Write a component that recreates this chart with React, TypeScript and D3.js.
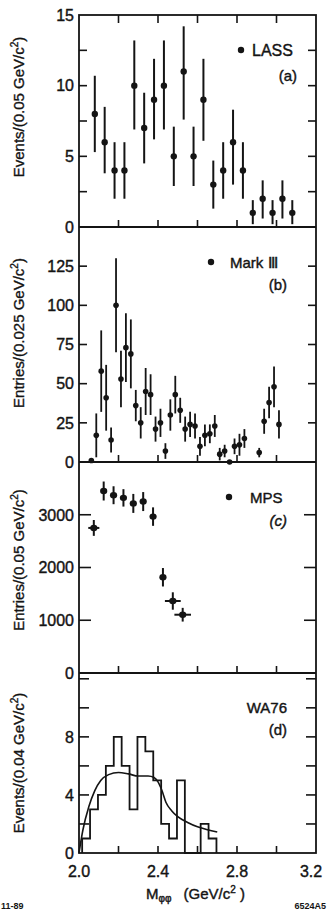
import React from 'react';
import * as d3 from 'd3';

const W = 328;
const H = 911;

// ---- data ----
const lassX = [2.08, 2.13, 2.18, 2.23, 2.28, 2.33, 2.38, 2.43, 2.48, 2.53, 2.58, 2.63, 2.68, 2.73, 2.78, 2.83, 2.88, 2.93, 2.98, 3.03, 3.08];
const lassY = [8, 6, 4, 4, 10, 7, 9, 10, 5, 11, 5, 9, 3, 4, 6, 4, 1, 2, 1, 2, 1];
const lassHi = [10.7, 8.5, 6.0, 6.0, 13.2, 9.5, 11.9, 13.2, 7.1, 14.2, 7.1, 11.9, 4.7, 6.0, 8.3, 6.0, 1.9, 3.3, 1.9, 3.3, 1.9];
const lassLo = [5.3, 3.8, 2.0, 2.0, 6.9, 4.5, 6.2, 6.9, 2.9, 7.6, 2.9, 6.1, 1.3, 2.0, 3.0, 2.0, 0.2, 0.6, 0.2, 0.6, 0.2];

const markX = [2.0625, 2.0875, 2.1125, 2.1375, 2.1625, 2.1875, 2.2125, 2.2375, 2.2625, 2.2875, 2.3125, 2.3375, 2.3625, 2.3875, 2.4125, 2.4375, 2.4625, 2.4875, 2.5125, 2.5375, 2.5625, 2.5875, 2.6125, 2.6375, 2.6625, 2.6875, 2.7125, 2.7375, 2.7625, 2.7875, 2.8125, 2.8375, 2.9125, 2.9375, 2.9625, 2.9875, 3.0125];
const markY = [1, 17, 58, 41, 14, 100, 53, 73, 69, 36, 25, 45, 43, 21, 25, 7, 30, 43, 33, 21, 24, 23, 10, 17, 18, 23, 5, 7, 0, 10, 11, 15, 6, 26, 38, 48, 24];
const markErr = [0, 14, 26, 21, 8, 30, 18, 22, 22, 10, 10, 15, 13, 8, 9, 5, 10, 12, 8, 8, 8, 8, 6, 7, 6, 7, 4, 4, 0, 5, 7, 6, 3, 8, 10, 13, 9];

const mpsX = [2.075, 2.125, 2.175, 2.225, 2.275, 2.325, 2.375, 2.425, 2.475, 2.525];
const mpsY = [2750, 3450, 3370, 3320, 3215, 3250, 2965, 1815, 1365, 1105];
const mpsYErr = [150, 180, 170, 165, 180, 180, 175, 175, 165, 130];
const mpsXErr = [0.028, 0.012, 0.012, 0.012, 0.012, 0.012, 0.012, 0.012, 0.04, 0.042];

const waEdges = [2.016, 2.056, 2.096, 2.136, 2.176, 2.216, 2.256, 2.296, 2.336, 2.376, 2.416, 2.456, 2.496, 2.536, 2.576, 2.616, 2.656, 2.696];
const waCounts = [1, 3, 4, 6, 8, 6, 3, 8, 7, 5, 2, 1, 5, 0, 0, 2, 1];
const fitX = [2.0, 2.02, 2.05, 2.08, 2.11, 2.15, 2.2, 2.25, 2.3, 2.35, 2.38, 2.4, 2.42, 2.44, 2.47, 2.5, 2.55, 2.6, 2.65, 2.7];
const fitY = [0, 1.6, 3.2, 4.3, 5.0, 5.4, 5.55, 5.45, 5.3, 5.3, 5.2, 4.9, 4.3, 3.5, 2.9, 2.5, 2.1, 1.8, 1.6, 1.45];

const xTickVals = [2.2, 2.4, 2.6, 2.8, 3.0];
const xLabelVals = [2.0, 2.4, 2.8, 3.2];
const xLabelText = ['2.0', '2.4', '2.8', '3.2'];

const aLabels = [0, 5, 10, 15];
const aTicks = [2.5, 5, 7.5, 10, 12.5];
const bLabels = [0, 25, 50, 75, 100, 125];
const bTicks = [25, 50, 75, 100, 125];
const cLabels = [0, 1000, 2000, 3000];
const cTicks = [1000, 2000, 3000];
const dLabels = [0, 4, 8];
const dTicks = [2, 4, 6, 8, 10, 12];

// ---- layout ----
const X0 = 79;
const X1 = 316;
const INK = '#141414';
const FONT = "'Liberation Sans', Arial, Helvetica, sans-serif";

const x = d3.scaleLinear().domain([2.0, 3.2]).range([X0, X1]);
const ya = d3.scaleLinear().domain([0, 15]).range([227, 15]);
const yb = d3.scaleLinear().domain([0, 150]).range([462, 227]);
const yc = d3.scaleLinear().domain([0, 4000]).range([673, 462]);
const yd = d3.scaleLinear().domain([0, 12.4]).range([853, 673]);

function YAxis({ y, labels, ticks, len }: { y: d3.ScaleLinear<number, number>; labels: number[]; ticks: number[]; len: number }) {
  return (
    <g>
      {ticks.map((t) => (
        <g key={'t' + t}>
          <line x1={X0} x2={X0 + len} y1={y(t)} y2={y(t)} stroke={INK} strokeWidth={1.6} />
          <line x1={X1} x2={X1 - len} y1={y(t)} y2={y(t)} stroke={INK} strokeWidth={1.6} />
        </g>
      ))}
      {labels.map((t) => (
        <text key={'l' + t} x={X0 - 5} y={y(t)} dy="0.36em" textAnchor="end" fontSize={16} fill={INK} stroke={INK} strokeWidth={0.4}>
          {t}
        </text>
      ))}
    </g>
  );
}

function XTicks({ yBottom, yTop }: { yBottom: number; yTop?: number }) {
  return (
    <g>
      {xTickVals.map((t) => (
        <line key={'b' + t} x1={x(t)} x2={x(t)} y1={yBottom} y2={yBottom - 7} stroke={INK} strokeWidth={1.6} />
      ))}
      {yTop !== undefined &&
        xTickVals.map((t) => (
          <line key={'u' + t} x1={x(t)} x2={x(t)} y1={yTop} y2={yTop + 8} stroke={INK} strokeWidth={1.6} />
        ))}
    </g>
  );
}

function YTitle({ cy, text }: { cy: number; text: string }) {
  return (
    <text transform={`translate(19,${cy}) rotate(-90)`} textAnchor="middle" dy="0.35em" fontSize={15} fill={INK} stroke={INK} strokeWidth={0.35}>
      {text}
      <tspan fontSize={10} dy={-6}>2</tspan>
      <tspan dy={6}>)</tspan>
    </text>
  );
}

export default function App() {
  const histPath = (() => {
    let p = `M${x(waEdges[0])},${yd(0)}`;
    waCounts.forEach((c, i) => {
      p += `V${yd(c)}H${x(waEdges[i + 1])}`;
    });
    p += `V${yd(0)}`;
    return p;
  })();
  const fitLine = d3
    .line<number>()
    .x((_, i) => x(fitX[i]))
    .y((v) => yd(v))
    .curve(d3.curveMonotoneX)(fitY) as string;

  return (
    <svg width={W} height={H} style={{ position: 'absolute', left: 0, top: 0, background: '#fff' }} fontFamily={FONT}>
      <rect x={0} y={0} width={W} height={H} fill="#fff" />
      {/* frames */}
      <rect x={X0} y={15} width={X1 - X0} height={853 - 15} fill="none" stroke={INK} strokeWidth={1.8} />
      <line x1={X0} x2={X1} y1={227} y2={227} stroke={INK} strokeWidth={1.8} />
      <line x1={X0} x2={X1} y1={462} y2={462} stroke={INK} strokeWidth={1.8} />
      <line x1={X0} x2={X1} y1={673} y2={673} stroke={INK} strokeWidth={1.8} />

      <XTicks yBottom={227} yTop={15} />
      <XTicks yBottom={462} />
      <XTicks yBottom={673} />
      <XTicks yBottom={853} />

      <YAxis y={ya} labels={aLabels} ticks={aTicks} len={8} />
      <YAxis y={yb} labels={bLabels} ticks={bTicks} len={8} />
      <YAxis y={yc} labels={cLabels} ticks={cTicks} len={12} />
      <YAxis y={yd} labels={dLabels} ticks={dTicks} len={10} />

      <YTitle cy={107} text="Events/(0.05 GeV/c" />
      <YTitle cy={333} text="Entries/(0.025 GeV/c" />
      <YTitle cy={560} text="Entries/(0.05 GeV/c" />
      <YTitle cy={763} text="Events/(0.04 GeV/c" />

      {/* panel a: LASS */}
      <g>
        {lassX.map((v, i) => (
          <g key={i}>
            <line x1={x(v)} x2={x(v)} y1={ya(lassLo[i])} y2={ya(lassHi[i])} stroke={INK} strokeWidth={2} />
            <circle cx={x(v)} cy={ya(lassY[i])} r={3.2} fill={INK} />
          </g>
        ))}
        <circle cx={241} cy={50} r={3.2} fill={INK} />
        <text x={252} y={55.5} fontSize={16} fill={INK} stroke={INK} strokeWidth={0.4}>LASS</text>
        <text x={297} y={81} fontSize={15} textAnchor="end" fill={INK} stroke={INK} strokeWidth={0.4}>(a)</text>
      </g>

      {/* panel b: Mark III */}
      <g>
        {markX.map((v, i) => (
          <g key={i}>
            {markErr[i] > 0 && (
              <line x1={x(v)} x2={x(v)} y1={yb(Math.max(0, markY[i] - markErr[i]))} y2={yb(markY[i] + markErr[i])} stroke={INK} strokeWidth={1.8} />
            )}
            <circle cx={x(v)} cy={yb(markY[i])} r={2.8} fill={INK} />
          </g>
        ))}
        <circle cx={211} cy={262} r={3.2} fill={INK} />
        <text x={230} y={267.5} fontSize={15} fill={INK} stroke={INK} strokeWidth={0.4}>Mark Ⅲ</text>
        <text x={287} y={290} fontSize={15} textAnchor="end" fill={INK} stroke={INK} strokeWidth={0.4}>(b)</text>
      </g>

      {/* panel c: MPS */}
      <g>
        {mpsX.map((v, i) => (
          <g key={i}>
            <line x1={x(v)} x2={x(v)} y1={yc(mpsY[i] - mpsYErr[i])} y2={yc(mpsY[i] + mpsYErr[i])} stroke={INK} strokeWidth={2} />
            <line x1={x(v - mpsXErr[i])} x2={x(v + mpsXErr[i])} y1={yc(mpsY[i])} y2={yc(mpsY[i])} stroke={INK} strokeWidth={2} />
            <ellipse cx={x(v)} cy={yc(mpsY[i])} rx={3.6} ry={3.2} fill={INK} />
          </g>
        ))}
        <circle cx={229} cy={497} r={3.2} fill={INK} />
        <text x={250} y={502.5} fontSize={15} fill={INK} stroke={INK} strokeWidth={0.4}>MPS</text>
        <text x={287} y={526} fontSize={15} textAnchor="end" fill={INK} stroke={INK} strokeWidth={0.4} fontStyle="italic">(c)</text>
      </g>

      {/* panel d: WA76 */}
      <g>
        <path d={histPath} fill="none" stroke={INK} strokeWidth={1.8} />
        <path d={fitLine} fill="none" stroke={INK} strokeWidth={1.6} />
        <text x={287} y={713} fontSize={15} textAnchor="end" fill={INK} stroke={INK} strokeWidth={0.4}>WA76</text>
        <text x={287} y={735} fontSize={15} textAnchor="end" fill={INK} stroke={INK} strokeWidth={0.4}>(d)</text>
      </g>

      {/* x labels */}
      {xLabelVals.map((v, i) => (
        <text key={v} x={Math.min(x(v), 311)} y={877} textAnchor="middle" fontSize={16} fill={INK} stroke={INK} strokeWidth={0.4}>
          {xLabelText[i]}
        </text>
      ))}
      <text x={146} y={899} fontSize={15} fill={INK} stroke={INK} strokeWidth={0.4}>
        M
        <tspan fontSize={10} dy={3}>φφ</tspan>
        <tspan dy={-3} dx={12}>(GeV/c</tspan>
        <tspan fontSize={10} dy={-6}>2</tspan>
        <tspan dy={6}> )</tspan>
      </text>
      <text x={1} y={909} fontSize={9} fontWeight="bold" fill={INK}>11-89</text>
      <text x={326} y={909} fontSize={9} fontWeight="bold" textAnchor="end" fill={INK}>6524A5</text>
    </svg>
  );
}
